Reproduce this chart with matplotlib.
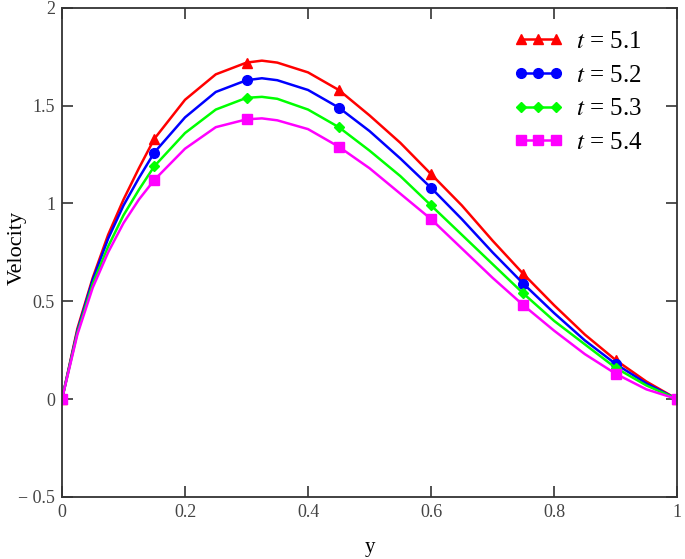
import numpy as np
import matplotlib
matplotlib.use("Agg")
import matplotlib.pyplot as plt

plt.rcParams["font.family"] = ["Liberation Serif", "DejaVu Serif"]
plt.rcParams["mathtext.fontset"] = "stix"

# y positions across the channel
y_pos = [0, 0.025, 0.05, 0.075, 0.1, 0.125, 0.15, 0.2, 0.25, 0.3, 0.325, 0.35, 0.4,
         0.45, 0.5, 0.55, 0.6, 0.65, 0.7, 0.75, 0.8, 0.85, 0.9, 0.95, 1.0]

vel_t51 = [0, 0.36, 0.62, 0.84, 1.02, 1.18, 1.33, 1.53, 1.66, 1.72, 1.73, 1.72, 1.67,
           1.58, 1.45, 1.31, 1.15, 0.99, 0.81, 0.64, 0.48, 0.33, 0.20, 0.09, 0]
vel_t52 = [0, 0.35, 0.61, 0.82, 0.99, 1.13, 1.26, 1.44, 1.57, 1.63, 1.64, 1.63, 1.58,
           1.49, 1.37, 1.23, 1.08, 0.92, 0.75, 0.59, 0.44, 0.30, 0.18, 0.08, 0]
vel_t53 = [0, 0.34, 0.59, 0.78, 0.94, 1.07, 1.19, 1.36, 1.48, 1.54, 1.545, 1.535, 1.48,
           1.39, 1.27, 1.14, 0.99, 0.84, 0.69, 0.54, 0.40, 0.28, 0.16, 0.07, 0]
vel_t54 = [0, 0.33, 0.57, 0.75, 0.90, 1.02, 1.12, 1.28, 1.39, 1.43, 1.435, 1.425, 1.38,
           1.29, 1.18, 1.05, 0.92, 0.77, 0.62, 0.48, 0.35, 0.23, 0.13, 0.05, 0]

labels = ["$t$ = 5.1", "$t$ = 5.2", "$t$ = 5.3", "$t$ = 5.4"]
colors = ["#ff0000", "#0000ff", "#00ff00", "#ff00ff"]
markers = ["^", "o", "D", "s"]
msizes = [7, 7, 5, 7]

# marker positions: every 0.15 plus the wall
mark_idx = [0, 6, 9, 13, 16, 19, 22, 24]

fig = plt.figure(figsize=(6.85, 5.59), dpi=100)
ax = fig.add_axes([0.0905, 0.111, 0.898, 0.875])

for vals, lab, c, m, ms in zip([vel_t51, vel_t52, vel_t53, vel_t54], labels, colors, markers, msizes):
    ax.plot(y_pos, vals, color=c, lw=1.8, marker=m, ms=ms, markevery=mark_idx, label=lab)

ax.set_xlim(0, 1)
ax.set_ylim(-0.5, 2)
ax.set_xticks([0, 0.2, 0.4, 0.6, 0.8, 1])
ax.set_xticklabels(["0", "0.2", "0.4", "0.6", "0.8", "1"])
ax.set_yticks([-0.5, 0, 0.5, 1, 1.5, 2])
ax.set_yticklabels(["\u2212 0.5", "0", "0.5", "1", "1.5", "2"])
ax.tick_params(direction="in", length=8, width=1.2, top=True, right=True,
               labelsize=13, colors="#333333", labelcolor="#444444", pad=5)
for s in ax.spines.values():
    s.set_linewidth(1.3)
    s.set_color("#333333")

ax.set_xlabel("y", fontsize=15, labelpad=12)
ax.set_ylabel("Velocity", fontsize=16)
ax.yaxis.set_label_coords(-0.058, 0.51)

ax.legend(loc="upper right", numpoints=3, frameon=False, fontsize=18,
          handlelength=2.0, handletextpad=0.5, labelspacing=0.45,
          bbox_to_anchor=(0.98, 1.0))

fig.savefig("out.png", dpi=100)
